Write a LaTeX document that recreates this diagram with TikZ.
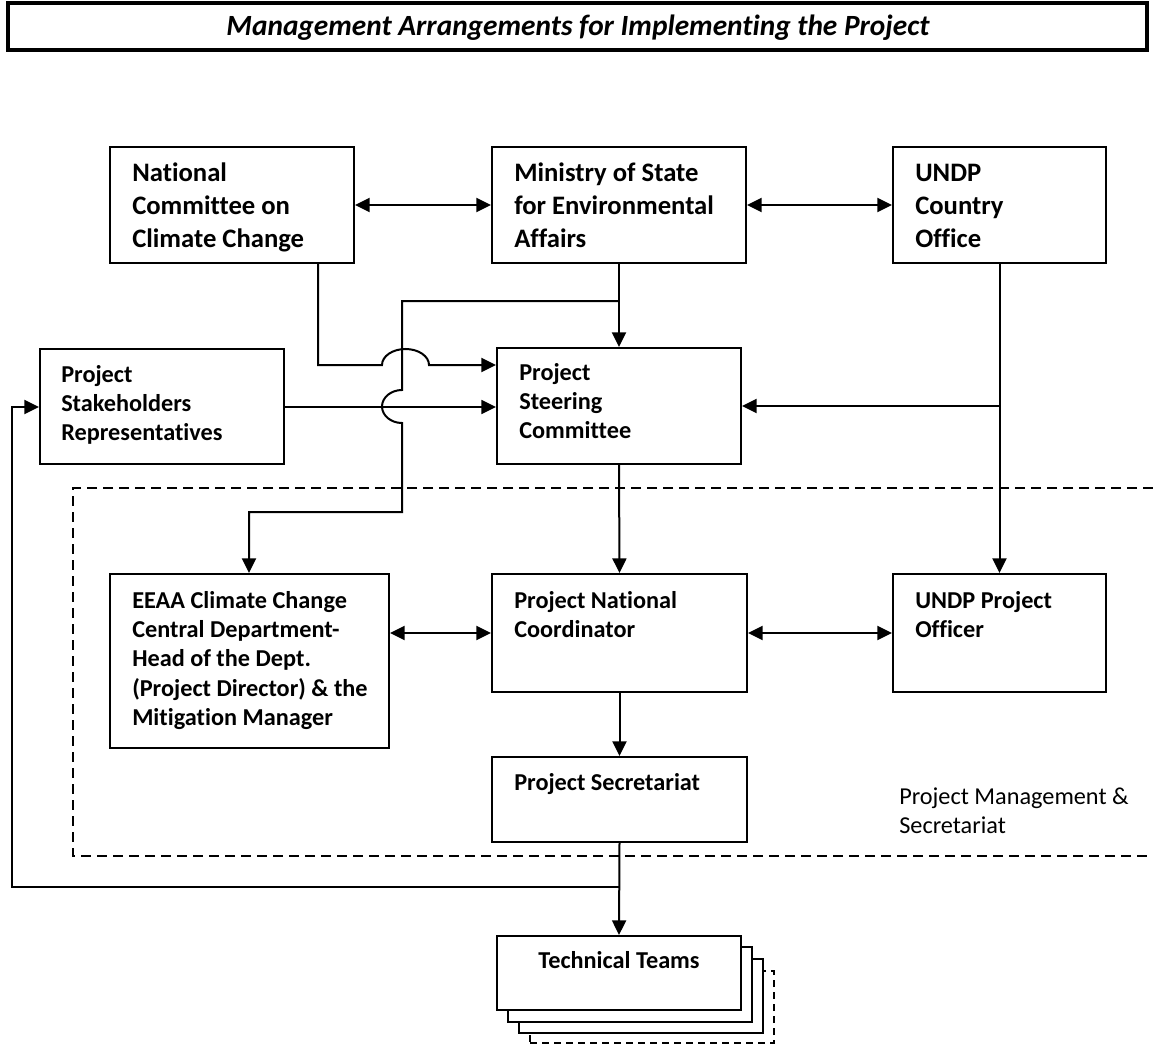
\documentclass[tikz,border=0pt]{standalone}
\usepackage{fontspec}
\setmainfont[Ligatures=NoCommon]{Carlito}
\usetikzlibrary{arrows.meta,fit,calc}
\begin{document}
\begin{tikzpicture}[x=0.75pt,y=-0.75pt,
  box/.style={draw,line width=1.5pt,inner sep=0pt,fill=white},
  conn/.style={line width=1.5pt},
  arr/.style={conn,-{Triangle[length=11pt,width=10.5pt]}},
  darr/.style={conn,{Triangle[length=11pt,width=10.5pt]}-{Triangle[length=11pt,width=10.5pt]}},
  lbl/.style={anchor=base west,inner sep=0pt,align=flush left,text width=320pt,font=\fontsize{18.2}{22}\selectfont\bfseries},
  toplbl/.style={lbl,font=\fontsize{20}{24.4}\selectfont\bfseries},
  plain/.style={anchor=base west,inner sep=0pt,align=flush left,text width=320pt,font=\fontsize{18.2}{21.75}\selectfont},
  frame/.style={line width=1.5pt,dash pattern=on 7.5pt off 4.5pt}
]
\useasboundingbox (0,0) rectangle (1153,1045);

% title
\node[draw,line width=3pt,inner sep=0pt,fit={(8,3) (1147,50)}] (title) {};
\node[anchor=base,inner sep=0pt,font=\fontsize{22}{22}\selectfont\bfseries\itshape] (titletext) at (578,36) {Management Arrangements for Implementing the Project};

% dashed frame
\draw[frame] (1153,488) -- (73,488) -- (73,856) -- (1153,856);

% boxes
\node[box,fit={(110,147) (354,263)}] (ncc) {};
\node[box,fit={(492,147) (746,263)}] (min) {};
\node[box,fit={(893,147) (1106,263)}] (uco) {};
\node[box,fit={(40,349) (284,464)}] (psr) {};
\node[box,fit={(497,348) (741,464)}] (stc) {};
\node[box,fit={(110,574) (389,748)}] (eeaa) {};
\node[box,fit={(492,574) (747,692)}] (coord) {};
\node[box,fit={(893,574) (1106,692)}] (upo) {};
\node[box,fit={(492,757) (747,842)}] (sec) {};
\node[box,dash pattern=on 5pt off 4pt,fit={(530,971) (774,1043)}] (tt4) {};
\node[box,fit={(519,959) (763,1033)}] (tt3) {};
\node[box,fit={(508,947) (752,1022)}] (tt2) {};
\node[box,fit={(497,936) (741,1010)}] (tt) {};

% texts
\node[toplbl] (tncc) at (132,182) {National\\Committee on\\Climate Change};
\node[toplbl] (tmin) at (514,182) {Ministry of State\\for Environmental\\Affairs};
\node[toplbl] (tuco) at (915,182) {UNDP\\Country\\Office};
\node[lbl] (tpsr) at (61,382) {Project\\Stakeholders\\Representatives};
\node[lbl] (tstc) at (519,380) {Project\\Steering\\Committee};
\node[lbl] (teeaa) at (132,608) {EEAA Climate Change\\Central Department-\\Head of the Dept.\\(Project Director) \& the\\Mitigation Manager};
\node[lbl] (tcoord) at (514,608) {Project National\\Coordinator};
\node[lbl] (tupo) at (915,608) {UNDP Project\\Officer};
\node[lbl] (tsec) at (514,790) {Project Secretariat};
\node[anchor=base,inner sep=0pt,font=\fontsize{18.2}{22}\selectfont\bfseries] (ttt) at (619,968) {Technical Teams};
\node[plain] (tpm) at (899,804) {Project Management \&\\Secretariat};

% junction coordinates
\coordinate (a1) at (318,365);
\coordinate (h1s) at (382,365);
\coordinate (h1e) at (429,365);
\coordinate (b0) at (619,301);
\coordinate (b1) at (402,301);
\coordinate (b2) at (402,390);
\coordinate (b3) at (402,423);
\coordinate (b4) at (402,512);
\coordinate (b5) at (249,512);
\coordinate (c1) at (0,407);
\coordinate (d1) at (1000,406);
\coordinate (e1) at (619,887);
\coordinate (e2) at (12,887);
\coordinate (e3) at (12,407);

% connectors
\draw[darr] (ncc.east) -- (min.west);
\draw[darr] (min.east) -- (uco.west);
\draw[arr] (ncc.south -| a1) -- (a1) -- (h1s) .. controls (382,356.2) and (392.5,349) .. (405.5,349) .. controls (418.5,349) and (429,356.2) .. (h1e) -- (stc.west |- a1);
\draw[arr] (min.south) -- (stc.north);
\draw[arr] (b0) -- (b1) -- (b2) .. controls (391,390) and (382,397.4) .. (382,406.5) .. controls (382,415.6) and (391,423) .. (b3) -- (b4) -- (b5) -- (eeaa.north -| b5);
\draw[conn,line width=1.3pt,-{Triangle[length=11pt,width=10.5pt]}] (psr.east |- c1) -- (stc.west |- c1);
\draw[arr] (uco.south) -- (upo.north);
\draw[arr] (d1) -- (stc.east |- d1);
\draw[arr] (stc.south) -- (coord.north);
\draw[darr] (eeaa.east |- coord.west) -- (coord.west);
\draw[darr] (coord.east) -- (upo.west);
\draw[arr] (coord.south) -- (sec.north);
\draw[arr] (sec.south) -- (tt.north);
\draw[arr] (e1) -- (e2) -- (e3) -- (psr.west |- e3);
\end{tikzpicture}
\end{document}
